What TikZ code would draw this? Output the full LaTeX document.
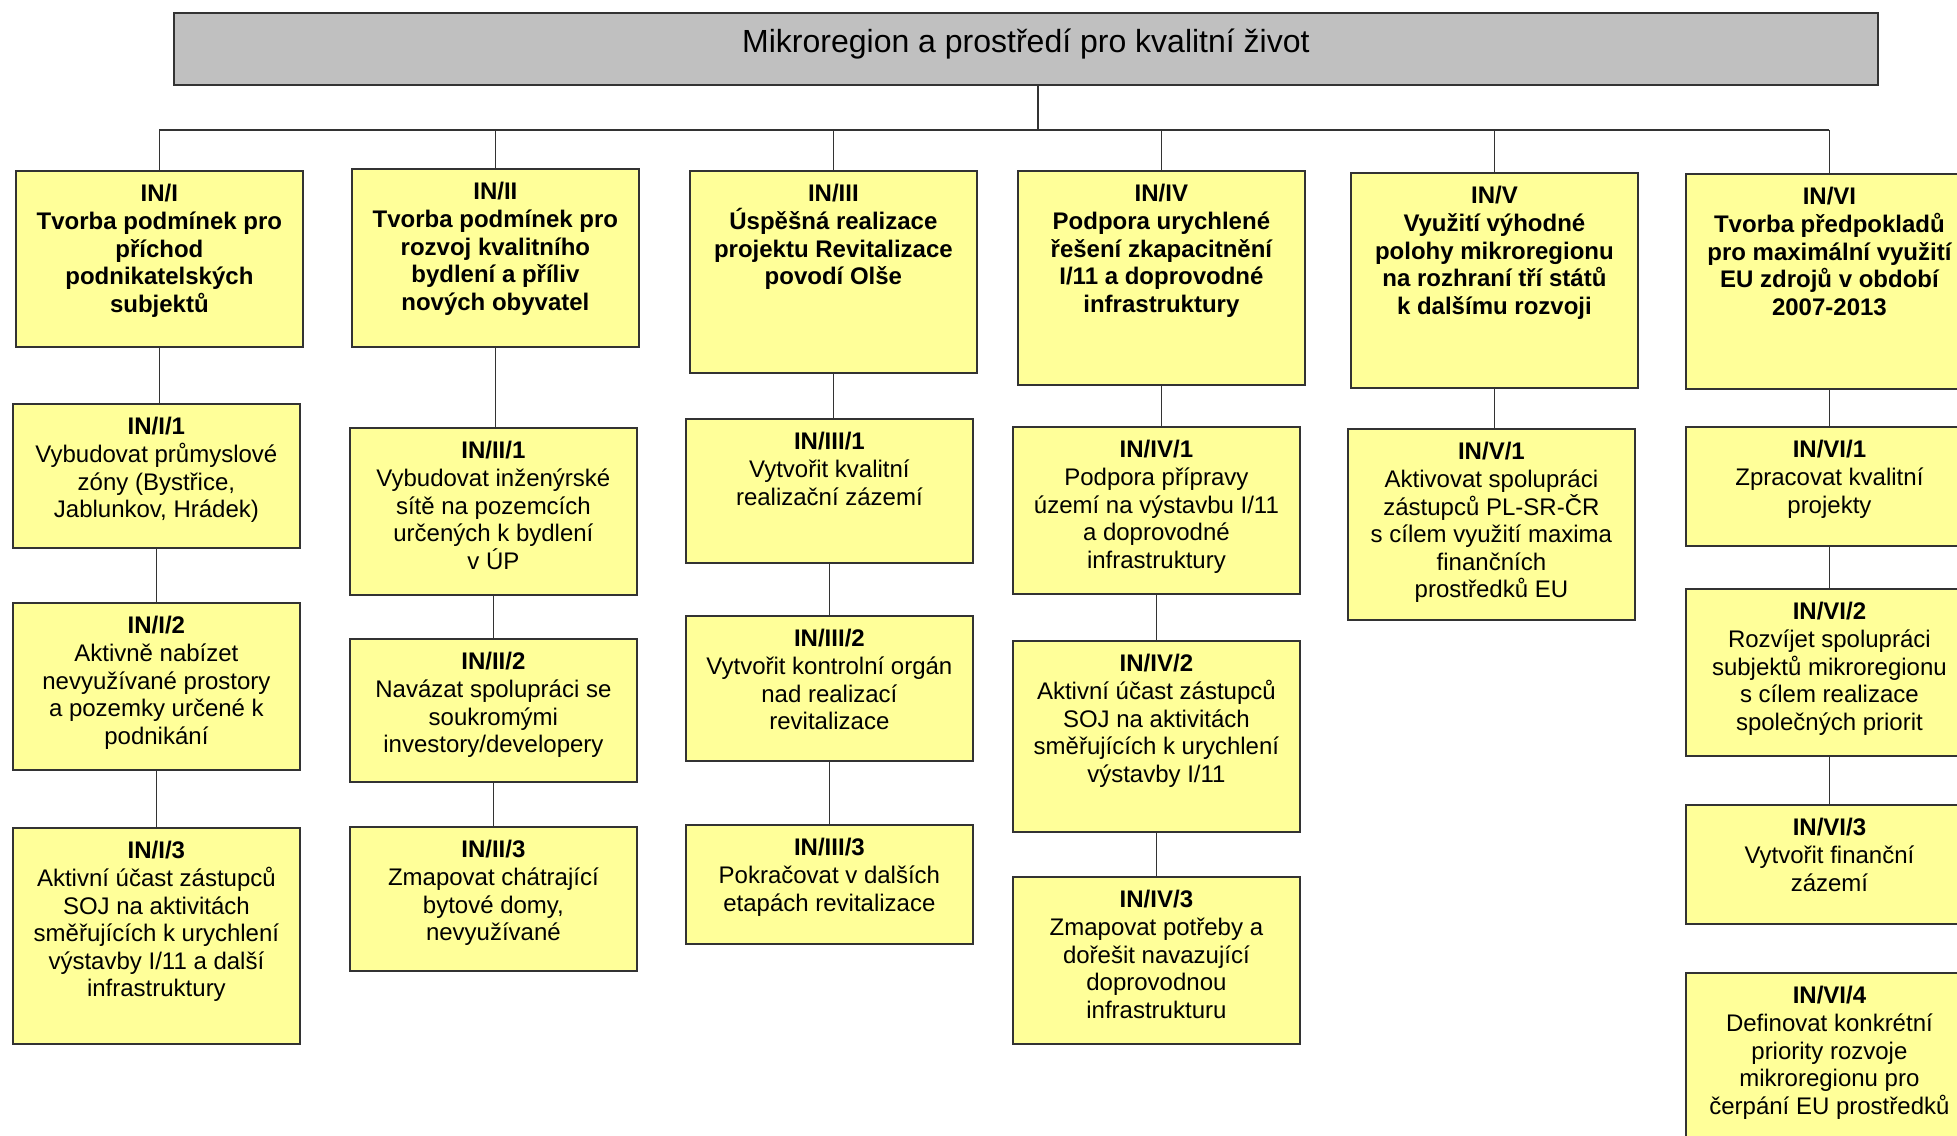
\documentclass[tikz,border=0pt]{standalone}
\usepackage{fontspec}
\setmainfont{Liberation Sans}

\definecolor{boxyellow}{HTML}{FFFF99}
\definecolor{titlegray}{HTML}{C0C0C0}
\definecolor{edgegray}{HTML}{333333}

% box text: fixed height, first baseline 15.5pt below the top edge
\newcommand{\boxtxt}[2]{\parbox[c][#1][t]{143.5pt}{\centering\rule{0pt}{15.5pt}#2}}

\begin{document}
\begin{tikzpicture}[x=0.5pt,y=-0.5pt,
    titlebox/.style={draw=edgegray,line width=0.9pt,fill=titlegray,inner sep=0pt,
        anchor=north west,font=\fontsize{16}{19}\selectfont},
    goalbox/.style={draw=edgegray,line width=0.9pt,fill=boxyellow,inner sep=0pt,
        anchor=north west,font=\fontsize{12}{13.8}\selectfont},
    link/.style={draw=edgegray,line width=0.65pt}]

    \useasboundingbox (0,0) rectangle (1957,1135);
    \clip (0,0) rectangle (1957,1135);

    \node[titlebox] (title) at (173,12)
        {\parbox[c][36pt][t]{852pt}{\centering\rule{0pt}{20pt}Mikroregion a prostředí pro kvalitní život}};

    % priority areas
    \node[goalbox] (in1) at (15,170) {\boxtxt{88pt}{\bfseries IN/I\\Tvorba podmínek pro\\příchod\\podnikatelských\\subjektů}};
    \node[goalbox] (in2) at (351,168) {\boxtxt{89pt}{\bfseries IN/II\\Tvorba podmínek pro\\rozvoj kvalitního\\bydlení a příliv\\nových obyvatel}};
    \node[goalbox] (in3) at (689,170) {\boxtxt{101pt}{\bfseries IN/III\\Úspěšná realizace\\projektu Revitalizace\\povodí Olše}};
    \node[goalbox] (in4) at (1017,170) {\boxtxt{107pt}{\bfseries IN/IV\\Podpora urychlené\\řešení zkapacitnění\\I/11 a doprovodné\\infrastruktury}};
    \node[goalbox] (in5) at (1350,172) {\boxtxt{107.5pt}{\bfseries IN/V\\Využití výhodné\\polohy mikroregionu\\na rozhraní tří států\\k dalšímu rozvoji}};
    \node[goalbox] (in6) at (1685,173) {\boxtxt{107.5pt}{\bfseries IN/VI\\Tvorba předpokladů\\pro maximální využití\\EU zdrojů v období\\2007-2013}};

    % measures
    \node[goalbox] (in11) at (12,403) {\boxtxt{72pt}{\textbf{IN/I/1}\\Vybudovat průmyslové\\zóny (Bystřice,\\Jablunkov, Hrádek)}};
    \node[goalbox] (in12) at (12,602) {\boxtxt{83.5pt}{\textbf{IN/I/2}\\Aktivně nabízet\\nevyužívané prostory\\a pozemky určené k\\podnikání}};
    \node[goalbox] (in13) at (12,827) {\boxtxt{108pt}{\textbf{IN/I/3}\\Aktivní účast zástupců\\SOJ na aktivitách\\směřujících k urychlení\\výstavby I/11 a další\\infrastruktury}};

    \node[goalbox] (in21) at (349,427) {\boxtxt{83.5pt}{\textbf{IN/II/1}\\Vybudovat inženýrské\\sítě na pozemcích\\určených k bydlení\\v ÚP}};
    \node[goalbox] (in22) at (349,638) {\boxtxt{71.5pt}{\textbf{IN/II/2}\\Navázat spolupráci se\\soukromými\\investory/developery}};
    \node[goalbox] (in23) at (349,826) {\boxtxt{72pt}{\textbf{IN/II/3}\\Zmapovat chátrající\\bytové domy,\\nevyužívané}};

    \node[goalbox] (in31) at (685,418) {\boxtxt{72pt}{\textbf{IN/III/1}\\Vytvořit kvalitní\\realizační zázemí}};
    \node[goalbox] (in32) at (685,615) {\boxtxt{72.5pt}{\textbf{IN/III/2}\\Vytvořit kontrolní orgán\\nad realizací\\revitalizace}};
    \node[goalbox] (in33) at (685,824) {\boxtxt{59.5pt}{\textbf{IN/III/3}\\Pokračovat v dalších\\etapách revitalizace}};

    \node[goalbox] (in41) at (1012,426) {\boxtxt{83.5pt}{\textbf{IN/IV/1}\\Podpora přípravy\\území na výstavbu I/11\\a doprovodné\\infrastruktury}};
    \node[goalbox] (in42) at (1012,640) {\boxtxt{95.5pt}{\textbf{IN/IV/2}\\Aktivní účast zástupců\\SOJ na aktivitách\\směřujících k urychlení\\výstavby I/11}};
    \node[goalbox] (in43) at (1012,876) {\boxtxt{83.5pt}{\textbf{IN/IV/3}\\Zmapovat potřeby a\\dořešit navazující\\doprovodnou\\infrastrukturu}};

    \node[goalbox] (in51) at (1347,428) {\boxtxt{95.5pt}{\textbf{IN/V/1}\\Aktivovat spolupráci\\zástupců PL-SR-ČR\\s cílem využití maxima\\finančních\\prostředků EU}};

    \node[goalbox] (in61) at (1685,426) {\boxtxt{59.5pt}{\textbf{IN/VI/1}\\Zpracovat kvalitní\\projekty}};
    \node[goalbox] (in62) at (1685,588) {\boxtxt{83.5pt}{\textbf{IN/VI/2}\\Rozvíjet spolupráci\\subjektů mikroregionu\\s cílem realizace\\společných priorit}};
    \node[goalbox] (in63) at (1685,804) {\boxtxt{59.5pt}{\textbf{IN/VI/3}\\Vytvořit finanční\\zázemí}};
    \node[goalbox] (in64) at (1685,972) {\boxtxt{90pt}{\textbf{IN/VI/4}\\Definovat konkrétní\\priority rozvoje\\mikroregionu pro\\čerpání EU prostředků}};

    % connectors
    \coordinate (bus) at (0,130);
    \draw[link] ([xshift=6pt]title.south) -- ([xshift=6pt]title.south |- bus);
    \draw[link] (in1.north |- bus) -- (in6.north |- bus);
    \foreach \n in {in1,in2,in3,in4,in5,in6}
        \draw[link] (\n.north) -- (\n.north |- bus);
    \foreach \a/\b in {in1/in11,in11/in12,in12/in13,in2/in21,in21/in22,in22/in23,
                       in3/in31,in31/in32,in32/in33,in4/in41,in41/in42,in42/in43,
                       in5/in51,in6/in61,in61/in62,in62/in63}
        \draw[link] (\a.south) -- (\a.south |- \b.north);
\end{tikzpicture}
\end{document}
